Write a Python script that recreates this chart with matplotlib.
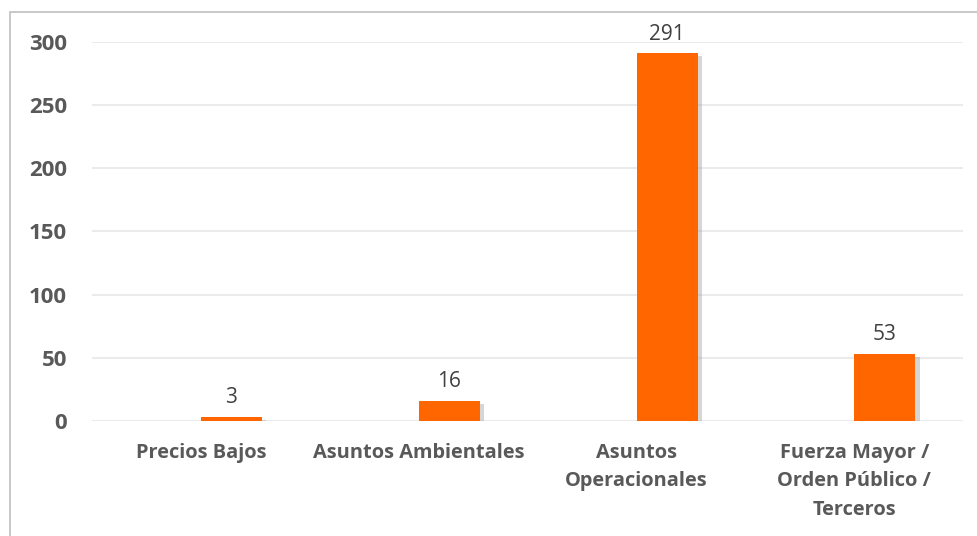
import numpy as np
import matplotlib.pyplot as plt
import matplotlib.patheffects as pe
from matplotlib.patches import Rectangle

categories = ["Precios Bajos", "Asuntos Ambientales", "Asuntos\nOperacionales",
              "Fuerza Mayor /\nOrden Público /\nTerceros"]
values = [3, 16, 291, 53]
y_ticks = [0, 50, 100, 150, 200, 250, 300]

plt.rcParams['font.family'] = ['Open Sans', 'DejaVu Sans']

fig = plt.figure(figsize=(9.77, 5.36), dpi=100)
ax = fig.add_axes([0.094, 0.2146, 0.892, 0.707])

# chart border (clipped at right and bottom like the source)
fig.patches.append(Rectangle((10 / 977, -0.1), 1.2, 1 - 12 / 536 + 0.1,
                             transform=fig.transFigure, fill=False,
                             edgecolor='#BFBFBF', lw=1.2))

x = np.arange(len(categories))
width = 0.28
bars = ax.bar(x + width / 2, values, width=width, color='#FF6600', zorder=3)
for b in bars:
    b.set_path_effects([pe.SimplePatchShadow(offset=(3, -2), shadow_rgbFace='#999999', alpha=0.4),
                        pe.Normal()])

for xi, v in zip(x, values):
    ax.text(xi + width / 2, v + 7, str(v), ha='center', va='bottom',
            fontsize=15, color='#404040')

ax.set_xlim(-0.5, len(categories) - 0.5)
ax.set_ylim(0, 300)
ax.set_yticks(y_ticks)
ax.set_yticklabels([str(t) for t in y_ticks], fontsize=16, fontweight='bold', color='#595959')
ax.set_xticks(x)
ax.set_xticklabels(categories, fontsize=14.4, fontweight='bold', color='#595959',
                   linespacing=1.55, va='top')
ax.tick_params(axis='y', length=0, pad=18)
ax.tick_params(axis='x', length=0, pad=16)

ax.grid(axis='y', color='#EBEBEB', lw=1.5, zorder=0)
for s in ax.spines.values():
    s.set_visible(False)

fig.savefig('out.png', dpi=100)
